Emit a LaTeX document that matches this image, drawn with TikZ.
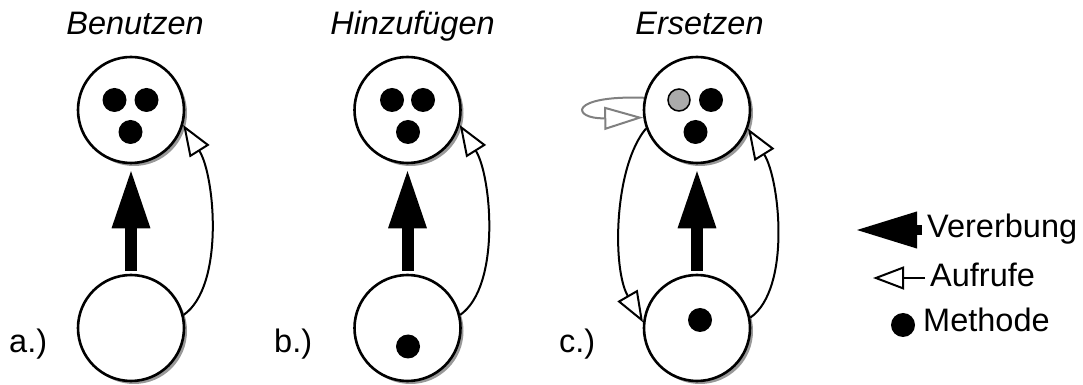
\documentclass[tikz,border=0pt]{standalone}
\usepackage{fontspec}
\setmainfont{Liberation Sans}
\usetikzlibrary{arrows.meta,shadows}
\begin{document}
\begin{tikzpicture}[x=1pt,y=1pt,
  obj/.style={circle, draw, line width=2.6pt, fill=white, minimum size=106pt, inner sep=0pt,
    drop shadow={shadow xshift=3pt, shadow yshift=-3pt, fill=black!40, opacity=1}},
  meth/.style={circle, fill=black, minimum size=24pt, inner sep=0pt},
  methgray/.style={circle, draw=black, line width=1.5pt, fill=black!33, minimum size=22pt, inner sep=0pt},
  inh/.style={line width=12pt, -{Triangle[length=60pt,width=35pt]}, shorten >=4pt, shorten <=3pt},
  inhleg/.style={line width=10pt, -{Triangle[length=62pt,width=34pt]}},
  call/.style={line width=2pt, -{Triangle[length=31pt,width=23pt,fill=white]}},
  callgray/.style={line width=2pt, draw=black!50, -{Triangle[length=39pt,width=23pt,fill=white]}},
  title/.style={font=\fontsize{32.5}{38}\selectfont\itshape, anchor=base, inner sep=0pt},
  lbl/.style={font=\fontsize{32.5}{38}\selectfont, anchor=base west, inner sep=0pt}
]
\useasboundingbox (0,0) rectangle (1083,385);

% titles
\node[title] (ta) at (135,350) {Benutzen};
\node[title] (tb) at (412.5,350) {Hinzufügen};
\node[title] (tc) at (699.5,350) {Ersetzen};

% panel labels
\node[lbl] (la) at (9,32) {a.)};
\node[lbl] (lb) at (274,32) {b.)};
\node[lbl] (lc) at (559,32) {c.)};

% panel a
\node[obj] (a1) at (131,275) {};
\node[obj] (a2) at (131,57) {};
\node[meth] (am1) at (114.5,285) {};
\node[meth] (am2) at (146.5,285) {};
\node[meth] (am3) at (130.5,253) {};
\draw[inh] (a2.north) -- (a1.south);
\draw[call] (a2.14) .. controls +(35:50) and +(-58:60) .. (a1.-16);

% panel b
\node[obj] (b1) at (407.5,275) {};
\node[obj] (b2) at (407.5,57) {};
\node[meth] (bm1) at (392,285) {};
\node[meth] (bm2) at (423,285) {};
\node[meth] (bm3) at (408,253) {};
\node[meth] (bm4) at (408,38.5) {};
\draw[inh] (b2.north) -- (b1.south);
\draw[call] (b2.14) .. controls +(35:50) and +(-58:60) .. (b1.-16);

% panel c
\node[obj] (c1) at (697,275) {};
\node[obj] (c2) at (697,57) {};
\node[methgray] (cm1) at (679,285) {};
\node[meth] (cm2) at (711,285) {};
\node[meth] (cm3) at (695.5,253) {};
\node[meth] (cm4) at (700,65) {};
\draw[inh] (c2.north) -- (c1.south);
\draw[call] (c2.11) .. controls +(35:50) and +(-58:60) .. (c1.-20);
\draw[call] (c1.200) .. controls +(230:50) and +(120:62) .. (c2.174);
\draw[callgray] (c1.167) .. controls (568,290) and (571,266) .. (c1.188);

% legend
\coordinate (vs) at (922,155);
\coordinate (ve) at (855,155);
\draw[inhleg] (vs) -- (ve);
\node[lbl] (tver) at (927,147) {Vererbung};
\coordinate (as) at (925,107);
\coordinate (ae) at (873,107);
\draw[call] (as) -- (ae);
\node[lbl] (tauf) at (930,98) {Aufrufe};
\node[meth] (md) at (903,60) {};
\node[lbl] (tmeth) at (923,53) {Methode};
\end{tikzpicture}
\end{document}
